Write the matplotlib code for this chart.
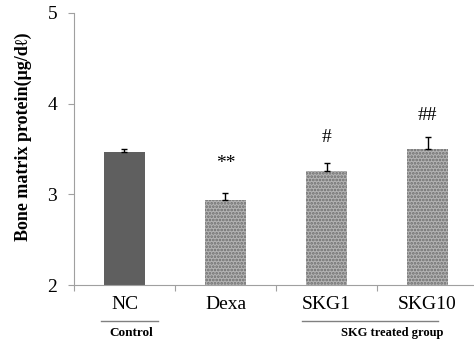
import matplotlib
matplotlib.use('Agg')
import matplotlib.pyplot as plt
import matplotlib.transforms as mtransforms

# data
groups = ['NC', 'Dexa', 'SKG1', 'SKG10']
values = [3.465, 2.935, 3.255, 3.50]
errors = [0.03, 0.075, 0.09, 0.135]
marks = ['', '**', '#', '##']
mark_y = [None, 3.34, 3.63, 3.87]

plt.rcParams['font.family'] = ['Liberation Serif', 'DejaVu Serif']
plt.rcParams['hatch.linewidth'] = 1.3

fig = plt.figure(figsize=(4.74, 3.41), dpi=100)
ax = fig.add_axes([0.156, 0.164, 0.844, 0.798])

x = range(len(groups))
ax.bar([0], values[:1], width=0.4, color='#5f5f5f', zorder=2)
ax.bar(x[1:], values[1:], width=0.4, color='#b4b4b4', edgecolor='#6c6c6c',
       linewidth=0, hatch='.....', zorder=2)
ax.errorbar(x, values, yerr=[[0] * 4, errors], fmt='none', ecolor='black',
            elinewidth=1, capsize=2.5, capthick=1, zorder=3)

for i, m in enumerate(marks):
    if m:
        ax.text(i, mark_y[i], m, ha='center', va='center', fontsize=14)

ax.set_ylim(2, 5)
ax.set_yticks([2, 3, 4, 5])
ax.set_xlim(-0.5, 3.46)
ax.set_xticks([-0.5, 0.5, 1.5, 2.5])
ax.set_xticklabels([])
ax.set_xticks(list(x), minor=True)
ax.set_xticklabels(groups, minor=True, fontsize=14)
ax.tick_params(axis='x', which='minor', length=0, pad=8)
ax.tick_params(axis='x', which='major', length=4, color='#a0a0a0')
ax.tick_params(axis='y', length=4, color='#a0a0a0', labelsize=14, pad=8)
for s in ['top', 'right']:
    ax.spines[s].set_visible(False)
for s in ['left', 'bottom']:
    ax.spines[s].set_color('#a0a0a0')

ax.set_ylabel('Bone matrix protein(μg/dℓ)', fontsize=13, fontweight='bold')
ax.yaxis.set_label_coords(-0.105, 0.544)

# group labels under the axis
trans = mtransforms.blended_transform_factory(ax.transData, fig.transFigure)
ax.plot([-0.236, 0.33], [0.0587, 0.0587], color='#808080', lw=1,
        transform=trans, clip_on=False)
ax.plot([1.757, 3.10], [0.0587, 0.0587], color='#808080', lw=1,
        transform=trans, clip_on=False)
ax.text(0.064, 0.022, 'Control', transform=trans, ha='center', va='center',
        fontsize=9.5, fontweight='bold')
ax.text(2.65, 0.022, 'SKG treated group', transform=trans, ha='center',
        va='center', fontsize=9, fontweight='bold')

plt.savefig('out.png', dpi=100)
